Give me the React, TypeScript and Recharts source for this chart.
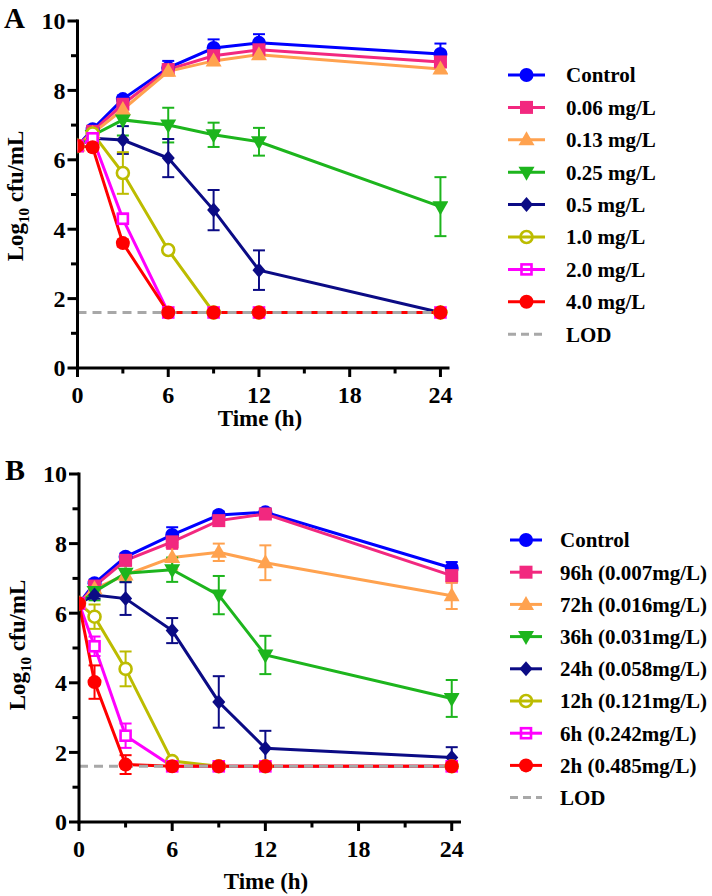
import React from 'react';
import { LineChart, Line, XAxis, YAxis, ErrorBar } from 'recharts';

// ---------- data ----------
const times = [0, 1, 3, 6, 9, 12, 24];
const xTicks = [0, 3, 6, 9, 12, 15, 18, 21, 24];
const yTicks = [0, 1, 2, 3, 4, 5, 6, 7, 8, 9, 10];
const LOD = 1.6;

// Panel A
const aNames = ['Control', '0.06 mg/L', '0.13 mg/L', '0.25 mg/L', '0.5 mg/L', '1.0 mg/L', '2.0 mg/L', '4.0 mg/L'];
const aControl = [6.4, 6.88, 7.75, 8.65, 9.22, 9.37, 9.05];
const aControlErr = [0, 0.08, 0.1, 0.2, 0.25, 0.25, 0.3];
const a006 = [6.4, 6.82, 7.6, 8.6, 9.0, 9.17, 8.82];
const a006Err = [0, 0.08, 0.12, 0.12, 0.15, 0.15, 0.15];
const a013 = [6.4, 6.76, 7.45, 8.55, 8.85, 9.03, 8.62];
const a013Err = [0, 0.08, 0.12, 0.12, 0.12, 0.12, 0.12];
const a025 = [6.4, 6.7, 7.15, 7.0, 6.72, 6.52, 4.65];
const a025Err = [0, 0.08, 0.45, 0.5, 0.35, 0.4, 0.85];
const a05 = [6.4, 6.62, 6.57, 6.05, 4.55, 2.82, 1.6];
const a05Err = [0, 0.08, 0.4, 0.55, 0.58, 0.57, 0];
const a10 = [6.4, 6.76, 5.62, 3.4, 1.6, 1.6, 1.6];
const a10Err = [0, 0.08, 0.6, 0, 0, 0, 0];
const a20 = [6.4, 6.62, 4.3, 1.6, 1.6, 1.6, 1.6];
const a20Err = [0, 0.08, 0.15, 0, 0, 0, 0];
const a40 = [6.4, 6.36, 3.6, 1.6, 1.6, 1.6, 1.6];
const a40Err = [0, 0.05, 0.1, 0, 0, 0, 0];

// Panel B
const bNames = ['Control', '96h (0.007mg/L)', '72h (0.016mg/L)', '36h (0.031mg/L)', '24h (0.058mg/L)', '12h (0.121mg/L)', '6h (0.242mg/L)', '2h (0.485mg/L)'];
const bControl = [6.28, 6.86, 7.62, 8.25, 8.82, 8.9, 7.3];
const bControlErr = [0, 0.08, 0.1, 0.22, 0.1, 0.1, 0.17];
const b96 = [6.28, 6.78, 7.52, 8.05, 8.66, 8.85, 7.08];
const b96Err = [0, 0.08, 0.15, 0.2, 0.1, 0.1, 0.2];
const b72 = [6.28, 6.7, 7.1, 7.6, 7.75, 7.45, 6.5];
const b72Err = [0, 0.08, 0.15, 0.35, 0.25, 0.5, 0.38];
const b36 = [6.28, 6.62, 7.15, 7.25, 6.52, 4.8, 3.55];
const b36Err = [0, 0.25, 0.25, 0.35, 0.55, 0.55, 0.53];
const b24 = [6.28, 6.52, 6.42, 5.5, 3.45, 2.12, 1.85];
const b24Err = [0, 0.1, 0.47, 0.36, 0.74, 0.5, 0.3];
const b12 = [6.28, 5.9, 4.4, 1.75, 1.6, 1.6, 1.6];
const b12Err = [0, 0.35, 0.5, 0, 0, 0, 0];
const b6 = [6.28, 5.05, 2.48, 1.6, 1.6, 1.6, 1.6];
const b6Err = [0, 0.28, 0.35, 0, 0, 0, 0];
const b2 = [6.28, 4.02, 1.65, 1.6, 1.6, 1.6, 1.6];
const b2Err = [0, 0.48, 0.27, 0, 0, 0, 0];

// ---------- styles ----------
const colors = ['#0000FF', '#F2287F', '#FFA24F', '#1DB51D', '#0B0B85', '#BCBC00', '#FF00FF', '#FF0000'];
const shapes = ['circle', 'square', 'triUp', 'triDown', 'diamond', 'openCircle', 'openSquare', 'circle'];
const LOD_COLOR = '#A8A8A8';
const FONT = 'Liberation Serif, DejaVu Serif, serif';

const aValues = [aControl, a006, a013, a025, a05, a10, a20, a40];
const aErrs = [aControlErr, a006Err, a013Err, a025Err, a05Err, a10Err, a20Err, a40Err];
const bValues = [bControl, b96, b72, b36, b24, b12, b6, b2];
const bErrs = [bControlErr, b96Err, b72Err, b36Err, b24Err, b12Err, b6Err, b2Err];

function buildRows(values: number[][], errs: number[][]) {
  return times.map((t, i) => {
    const row: any = { t, lod: LOD };
    values.forEach((v, s) => {
      row['s' + s] = v[i];
      row['e' + s] = errs[s][i];
    });
    return row;
  });
}

const rowsA = buildRows(aValues, aErrs);
const rowsB = buildRows(bValues, bErrs);

const textStyle: any = { fontFamily: FONT, fontWeight: 'bold' };

function Marker({ shape, color, cx, cy, legend }: any) {
  switch (shape) {
    case 'circle':
      return <circle cx={cx} cy={cy} r={7} fill={color} />;
    case 'square':
      return <rect x={cx - 6.5} y={cy - 6.5} width={13} height={13} fill={color} />;
    case 'triUp':
      return <polygon points={`${cx},${cy - 8.5} ${cx + 8},${cy + 5.5} ${cx - 8},${cy + 5.5}`} fill={color} />;
    case 'triDown':
      return <polygon points={`${cx},${cy + 8.5} ${cx + 8},${cy - 5.5} ${cx - 8},${cy - 5.5}`} fill={color} />;
    case 'diamond':
      return <polygon points={`${cx},${cy - 7.5} ${cx + 6.5},${cy} ${cx},${cy + 7.5} ${cx - 6.5},${cy}`} fill={color} />;
    case 'openCircle':
      return <circle cx={cx} cy={cy} r={6} fill={legend ? 'none' : '#fff'} stroke={color} strokeWidth={2.6} />;
    case 'openSquare':
      return <rect x={cx - 5} y={cy - 5} width={10} height={10} fill={legend ? 'none' : '#fff'} stroke={color} strokeWidth={2.6} />;
    default:
      return null;
  }
}

const XTick = (props: any) => {
  const { x, y, payload } = props;
  const major = payload.value % 6 === 0;
  return (
    <g>
      <line x1={x} y1={y} x2={x} y2={y + (major ? 9 : 5.5)} stroke="#000" strokeWidth={3} />
      {major && (
        <text x={x} y={y + 35} textAnchor="middle" style={textStyle} fontSize={24} fill="#000">
          {payload.value}
        </text>
      )}
    </g>
  );
};

const YTick = (props: any) => {
  const { x, y, payload } = props;
  const major = payload.value % 2 === 0;
  return (
    <g>
      <line x1={x} y1={y} x2={x - (major ? 10 : 6.5)} y2={y} stroke="#000" strokeWidth={3} />
      {major && (
        <text x={x - 12} y={y} dy="0.35em" textAnchor="end" style={textStyle} fontSize={24} fill="#000">
          {payload.value}
        </text>
      )}
    </g>
  );
};

function Panel({ rows, margin }: any) {
  return (
    <LineChart width={712} height={448} data={rows} margin={margin}>
      <XAxis
        dataKey="t"
        type="number"
        domain={[0, 24.5]}
        ticks={xTicks}
        interval={0}
        height={40}
        tickSize={0}
        tickMargin={0}
        tickLine={false}
        axisLine={{ stroke: '#000', strokeWidth: 3, strokeLinecap: 'square' }}
        tick={<XTick />}
        allowDataOverflow
      />
      <YAxis
        type="number"
        domain={[0, 10]}
        ticks={yTicks}
        interval={0}
        width={40}
        tickSize={0}
        tickMargin={0}
        tickLine={false}
        axisLine={{ stroke: '#000', strokeWidth: 3, strokeLinecap: 'square' }}
        tick={<YTick />}
        allowDataOverflow
      />
      {colors.map((c, s) => (
        <Line
          key={'s' + s}
          dataKey={'s' + s}
          stroke={c}
          strokeWidth={3}
          isAnimationActive={false}
          dot={(p: any) => <Marker key={'d' + s + '-' + p.index} shape={shapes[s]} color={c} cx={p.cx} cy={p.cy} />}
          activeDot={false}
        >
          <ErrorBar dataKey={'e' + s} width={6} strokeWidth={2} stroke={c} direction="y" isAnimationActive={false} />
        </Line>
      ))}
      <Line
        dataKey="lod"
        stroke={LOD_COLOR}
        strokeWidth={3}
        strokeDasharray="9 6"
        dot={false}
        activeDot={false}
        isAnimationActive={false}
      />
    </LineChart>
  );
}

function LegendBlock({ names, x0, x1, tx, y0, step }: any) {
  const cx = (x0 + x1) / 2;
  return (
    <g>
      {names.map((n: string, i: number) => {
        const y = y0 + i * step;
        return (
          <g key={n}>
            <line x1={x0} y1={y} x2={x1} y2={y} stroke={colors[i]} strokeWidth={3} />
            <Marker shape={shapes[i]} color={colors[i]} cx={cx} cy={y} legend />
            <text x={tx} y={y} dy="0.35em" style={textStyle} fontSize={21} fill="#000">
              {n}
            </text>
          </g>
        );
      })}
      <line x1={x0} y1={y0 + 8 * step} x2={x1} y2={y0 + 8 * step} stroke={LOD_COLOR} strokeWidth={3} strokeDasharray="8 5" />
      <text x={tx} y={y0 + 8 * step} dy="0.35em" style={textStyle} fontSize={21} fill="#000">
        LOD
      </text>
    </g>
  );
}

function YTitle({ x, y }: any) {
  return (
    <text transform={`translate(${x},${y}) rotate(-90)`} textAnchor="middle" style={textStyle} fontSize={23} fill="#000">
      Log
      <tspan fontSize={15} dy={6}>10</tspan>
      <tspan dy={-6}> cfu/mL</tspan>
    </text>
  );
}

export default function App() {
  return (
    <div style={{ position: 'absolute', left: 0, top: 0, width: 712, height: 896, background: '#fff' }}>
      <div style={{ position: 'absolute', left: 0, top: 0 }}>
        <Panel rows={rowsA} margin={{ top: 21, right: 264, bottom: 40, left: 37.5 }} />
      </div>
      <div style={{ position: 'absolute', left: 0, top: 448 }}>
        <Panel rows={rowsB} margin={{ top: 26, right: 252.5, bottom: 34, left: 39 }} />
      </div>
      <svg width={712} height={896} style={{ position: 'absolute', left: 0, top: 0, pointerEvents: 'none' }}>
        <text x={4} y={28} style={textStyle} fontSize={29} fill="#000">A</text>
        <text x={5} y={480} style={textStyle} fontSize={30} fill="#000">B</text>
        <YTitle x={23} y={196} />
        <YTitle x={25} y={645} />
        <text x={260} y={426} textAnchor="middle" style={textStyle} fontSize={23} fill="#000">Time (h)</text>
        <text x={266} y={889} textAnchor="middle" style={textStyle} fontSize={23} fill="#000">Time (h)</text>
        <LegendBlock names={aNames} x0={508} x1={545} tx={566} y0={75} step={32.4} />
        <LegendBlock names={bNames} x0={510} x1={542} tx={560} y0={540} step={32.2} />
      </svg>
    </div>
  );
}
